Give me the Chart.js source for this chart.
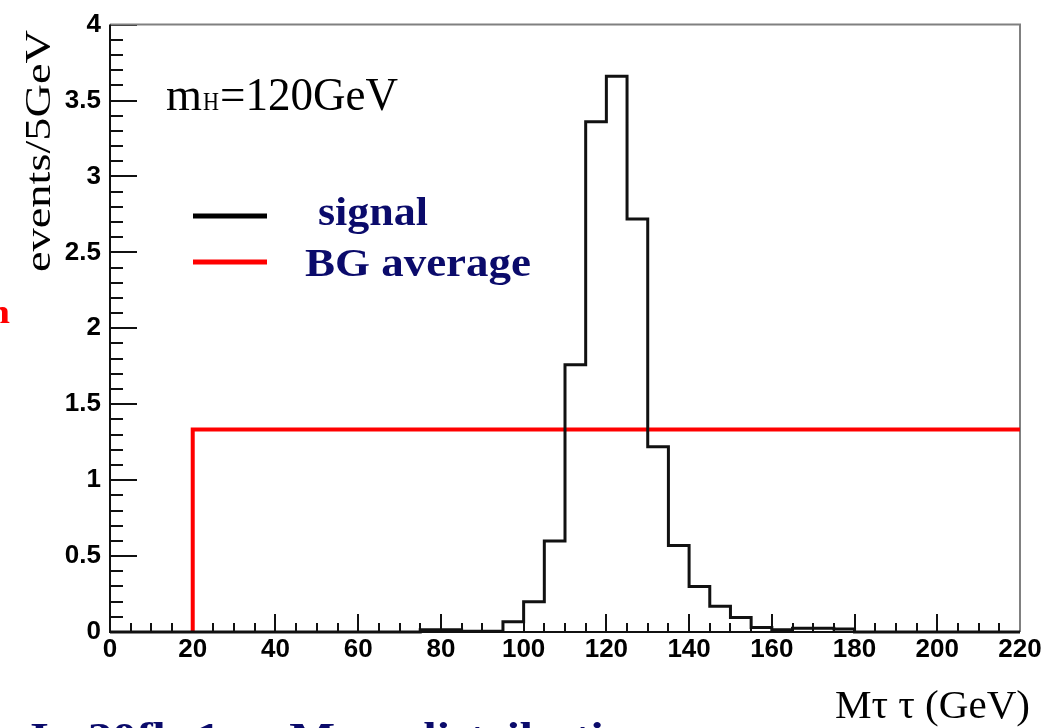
<!DOCTYPE html>
<html>
<head>
<meta charset="utf-8">
<script src="https://cdn.jsdelivr.net/npm/chart.js@4/dist/chart.umd.min.js"></script>
<style>
  body { margin: 0; background: #fff; }
  canvas { display: block; }
</style>
</head>
<body>
<canvas id="histo" width="1052" height="728"></canvas>
<script>
// lower edges of the 5 GeV bins
const binLow = [0, 5, 10, 15, 20, 25, 30, 35, 40, 45, 50, 55, 60, 65, 70, 75, 80, 85, 90, 95,
    100, 105, 110, 115, 120, 125, 130, 135, 140, 145, 150, 155, 160, 165, 170, 175,
    180, 185, 190, 195, 200, 205, 210, 215]
const signal = [0, 0, 0, 0, 0, 0, 0, 0, 0, 0, 0, 0, 0, 0, 0, 0.015, 0.015, 0.005, 0.005, 0.067,
    0.2, 0.6, 1.76, 3.36, 3.66, 2.72, 1.22, 0.57, 0.3, 0.17, 0.095, 0.03, 0.015, 0.025, 0.025, 0.02,
    0, 0, 0, 0, 0, 0, 0, 0]
const histEnd = 220
const bgX = [20, 20, 220]
const bgY = [0, 1.333, 1.333]
const xTicks = [0, 20, 40, 60, 80, 100, 120, 140, 160, 180, 200, 220]
const yTicks = [0, 0.5, 1, 1.5, 2, 2.5, 3, 3.5, 4]

const serif = '"Liberation Serif", "DejaVu Serif", serif'
const navy = '#0b0b6b'

// draw text squeezed / stretched to a given width
const fitText = (ctx, text, x, y, width, font, color) => {
    ctx.save()
    ctx.font = font
    ctx.fillStyle = color
    ctx.textBaseline = 'alphabetic'
    ctx.textAlign = 'left'
    const w = ctx.measureText(text).width
    ctx.translate(x, y)
    ctx.scale(width / w, 1)
    ctx.fillText(text, 0, 0)
    ctx.restore()
}

const rootFrame = {
    id: 'rootFrame',
    beforeDatasetsDraw(chart) {
        const { ctx, chartArea: a, scales: { x, y } } = chart
        ctx.save()
        ctx.strokeStyle = '#111'
        ctx.lineWidth = 2
        ctx.beginPath()
        for (let i = 0; i <= 40; i++) {
            const py = Math.round(y.getPixelForValue(i / 10))
            const len = i % 5 === 0 ? 27 : 13
            ctx.moveTo(a.left, py)
            ctx.lineTo(a.left + len, py)
        }
        for (let i = 0; i <= 44; i++) {
            const px = Math.round(x.getPixelForValue(i * 5))
            const len = i % 4 === 0 ? 18 : 9
            ctx.moveTo(px, a.bottom)
            ctx.lineTo(px, a.bottom - len)
        }
        ctx.stroke()

        // top / right in grey, left / bottom in black
        ctx.strokeStyle = '#808080'
        ctx.beginPath()
        ctx.moveTo(a.left, a.top)
        ctx.lineTo(a.right, a.top)
        ctx.lineTo(a.right, a.bottom)
        ctx.stroke()
        ctx.strokeStyle = '#111'
        ctx.beginPath()
        ctx.moveTo(a.left, a.top)
        ctx.lineTo(a.left, a.bottom)
        ctx.lineTo(a.right, a.bottom)
        ctx.stroke()
        ctx.restore()
    },
    afterDraw(chart) {
        const { ctx } = chart
        // y axis title
        ctx.save()
        ctx.translate(50, 272)
        ctx.rotate(-Math.PI / 2)
        fitText(ctx, 'events/5GeV', 0, 0, 242, '35px ' + serif, '#000')
        ctx.restore()

        // mH = 120GeV
        fitText(ctx, 'm', 166, 110, 36, '46px ' + serif, '#000')
        fitText(ctx, 'H', 203, 110, 16, '25px ' + serif, '#000')
        fitText(ctx, '=120GeV', 220, 110, 178, '46px ' + serif, '#000')

        // legend
        ctx.save()
        ctx.lineWidth = 5
        ctx.strokeStyle = '#000'
        ctx.beginPath(); ctx.moveTo(193, 216); ctx.lineTo(267, 216); ctx.stroke()
        ctx.strokeStyle = '#ff0000'
        ctx.beginPath(); ctx.moveTo(193, 262); ctx.lineTo(267, 262); ctx.stroke()
        ctx.restore()
        fitText(ctx, 'signal', 318, 225, 110, 'bold 40px ' + serif, navy)
        fitText(ctx, 'BG average', 305, 276, 226, 'bold 40px ' + serif, navy)

        // x axis title
        fitText(ctx, 'M\u03c4 \u03c4 (GeV)', 835, 718, 195, '40px ' + serif, '#000')

        // cut-off slide text
        fitText(ctx, 'In 30fb-1 \u03c4\u03c4 Mass distribution', 30, 750, 625, 'bold 40px ' + serif, navy)
        fitText(ctx, 'n', -12, 323, 22, 'bold 34px ' + serif, '#ff0000')
    }
}

const tickFont = { family: '"Liberation Sans", Arial, sans-serif', size: 26, weight: 'bold' }

new Chart(document.getElementById('histo'), {
    type: 'line',
    data: {
        datasets: [{
            label: 'signal',
            data: binLow.map((v, i) => ({ x: v, y: signal[i] })).concat([{ x: histEnd, y: signal[signal.length - 1] }]),
            stepped: 'before',
            borderColor: '#111',
            borderWidth: 3,
            pointRadius: 0,
            fill: false,
            clip: false
        }, {
            label: 'BG average',
            data: bgX.map((v, i) => ({ x: v, y: bgY[i] })),
            borderColor: '#ff0000',
            borderWidth: 4,
            pointRadius: 0,
            fill: false,
            clip: false
        }]
    },
    options: {
        responsive: false,
        animation: false,
        layout: { padding: { top: 20, right: 32, left: 0, bottom: 0 } },
        plugins: { legend: { display: false }, tooltip: { enabled: false } },
        scales: {
            x: {
                type: 'linear',
                min: 0,
                max: 220,
                afterBuildTicks: s => { s.ticks = xTicks.map(v => ({ value: v })) },
                afterFit: s => { s.height = 96 },
                ticks: { font: tickFont, color: '#000', padding: 2, maxRotation: 0, callback: v => String(v) },
                grid: { display: false, drawTicks: false },
                border: { display: false }
            },
            y: {
                min: 0,
                max: 4,
                afterBuildTicks: s => { s.ticks = yTicks.map(v => ({ value: v })) },
                afterFit: s => { s.width = 110 },
                ticks: { font: tickFont, color: '#000', padding: 9, callback: v => String(v) },
                grid: { display: false, drawTicks: false },
                border: { display: false }
            }
        }
    },
    plugins: [rootFrame]
})
</script>
</body>
</html>
